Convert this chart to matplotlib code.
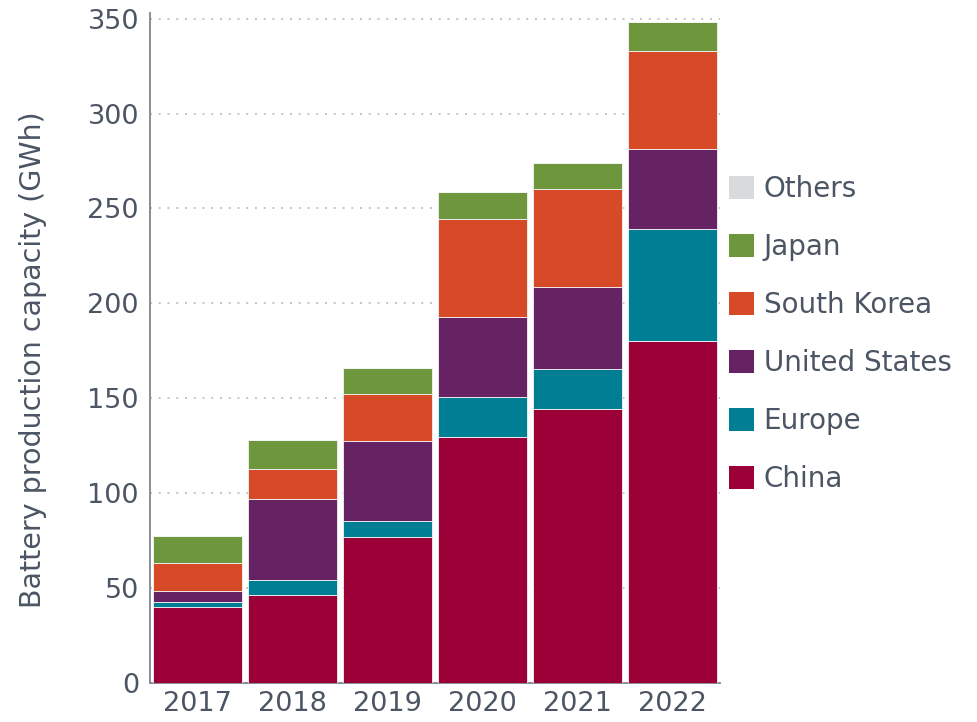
import numpy as np
import matplotlib.pyplot as plt
from matplotlib.patches import Patch

years = ['2017', '2018', '2019', '2020', '2021', '2022']
china = [40, 46.4, 76.8, 129.4, 144.3, 180]
europe = [2.8, 8.1, 8.5, 21.1, 21.1, 59.1]
united_states = [5.5, 42.7, 42.3, 42.5, 43.4, 42.4]
south_korea = [14.7, 15.5, 24.8, 51.6, 51.4, 51.7]
japan = [14.7, 15.3, 13.7, 14.0, 14.0, 14.9]
others = [0, 0, 0, 0, 0, 0]

series = [('China', china, '#9b0037'),
          ('Europe', europe, '#007e94'),
          ('United States', united_states, '#652364'),
          ('South Korea', south_korea, '#d64a27'),
          ('Japan', japan, '#6e963c'),
          ('Others', others, '#d9dadc')]

text_col = '#4b5563'
plt.rcParams['font.family'] = 'DejaVu Sans'

fig = plt.figure(figsize=(9.78, 7.22), dpi=100)
ax = fig.add_axes([150/978, 39/722, 570/978, 670/722])

x = np.arange(len(years))
bottom = np.zeros(len(years))
for name, vals, col in series:
    vals = np.array(vals, dtype=float)
    ax.bar(x, vals, width=0.93, bottom=bottom, color=col,
           edgecolor='#f4f4f4', linewidth=0.6, zorder=3)
    bottom += vals

ax.set_xlim(-0.5, 5.5)
ax.set_ylim(0, 353)
ax.set_yticks(np.arange(0, 351, 50))
ax.set_xticks(x)
ax.set_xticklabels(years)
ax.tick_params(axis='both', length=0, labelsize=19.5, colors=text_col, pad=8)
ax.tick_params(axis='x', pad=6)
ax.grid(axis='y', color='#c4c4c4', linestyle=(0, (1, 3.5)), linewidth=1.4, zorder=0)
ax.set_ylabel('Battery production capacity (GWh)', fontsize=20.5, color=text_col)
ax.yaxis.set_label_coords(-0.18, 0.482)

for s in ['top', 'right']:
    ax.spines[s].set_visible(False)
for s in ['left', 'bottom']:
    ax.spines[s].set_color('#7d858e')
    ax.spines[s].set_linewidth(1.3)

handles = [Patch(facecolor=col, edgecolor='none', label=name) for name, vals, col in series[::-1]]
fig.legend(handles=handles, loc='upper left', bbox_to_anchor=(729/978, 1 - 175/722),
           frameon=False, fontsize=20, labelcolor=text_col,
           handlelength=0.9, handleheight=0.9, handletextpad=0.35, labelspacing=1.08,
           borderaxespad=0, borderpad=0)

plt.savefig('out.png', dpi=100)
